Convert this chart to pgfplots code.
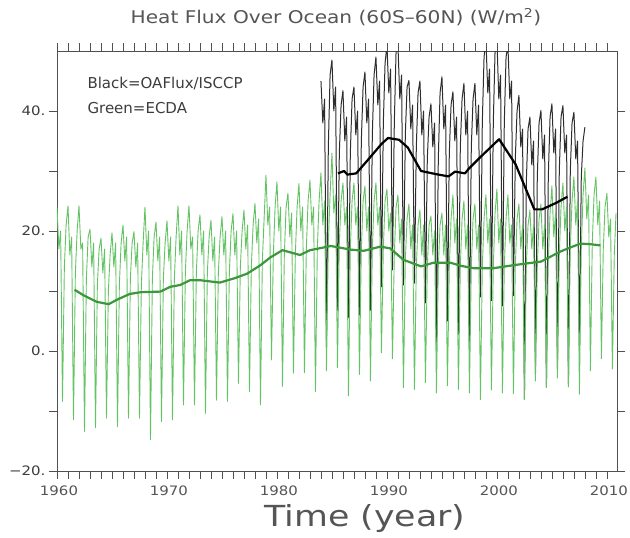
\documentclass[border=0pt]{standalone}
\usepackage{pgfplots}
\pgfplotsset{compat=1.18}
\usepackage{fontspec}
\setmainfont{DejaVu Sans}
\newfontfamily\widefont[FakeStretch=1.15]{DejaVu Sans}
\newfontfamily\widerfont[FakeStretch=1.2]{DejaVu Sans}
\definecolor{txt}{RGB}{60,60,60}
\definecolor{txtl}{RGB}{85,85,85}
\definecolor{frm}{RGB}{80,80,80}
\definecolor{gthin}{RGB}{100,195,100}
\definecolor{gthick}{RGB}{60,150,60}
\definecolor{kthin}{RGB}{45,45,45}
\begin{document}
\begin{tikzpicture}
\useasboundingbox (0pt,0pt) rectangle (630pt,538pt);
\begin{axis}[
  at={(57pt,67pt)}, anchor=south west,
  width=560pt, height=420pt, scale only axis,
  xmin=1960, xmax=2010.917, ymin=-20, ymax=50,
  xtick={1960,1970,1980,1990,2000,2010},
  xticklabels={1960,1970,1980,1990,2000,2010},
  minor xtick={1960,1961,...,2010},
  ytick={-20,-10,0,10,20,30,40},
  yticklabels={−20.,,0.,,20.,,40.},
  tick align=outside,
  major tick length=8pt, minor tick length=8pt,
  xtick pos=both, ytick pos=both,
  xticklabel pos=lower, yticklabel pos=left,
  tick style={frm, line width=0.8pt},
  axis line style={frm, line width=0.9pt},
  xticklabel style={font=\widefont\fontsize{13}{15}\selectfont, text=txtl, yshift=-3pt, xshift=2pt},
  yticklabel style={font=\widefont\fontsize{13}{15}\selectfont, text=txt},
  every axis plot/.append style={line join=round},
]
\addplot[kthin, line width=1pt] coordinates {
(1984,45)(1984.17,38)(1984.33,42)(1984.5,1.8)(1984.67,34)(1984.83,46)
(1985,48.5)(1985.17,40)(1985.33,44)(1985.5,6.8)(1985.67,33)(1985.83,41)
(1986,43.4)(1986.17,35)(1986.33,39)(1986.5,5.6)(1986.67,33)(1986.83,42)
(1987,44)(1987.17,36)(1987.33,40)(1987.5,6)(1987.67,35)(1987.83,44)
(1988,46.5)(1988.17,38)(1988.33,42)(1988.5,6.8)(1988.67,36)(1988.83,46)
(1989,49)(1989.17,41)(1989.33,45)(1989.5,10.7)(1989.67,38)(1989.83,48)
(1990,51)(1990.17,43)(1990.33,47)(1990.5,13.5)(1990.67,38)(1990.83,50)
(1991,51)(1991.17,42)(1991.33,46)(1991.5,11)(1991.67,36)(1991.83,44)
(1992,45.1)(1992.17,37)(1992.33,41)(1992.5,11.3)(1992.67,34)(1992.83,43)
(1993,45)(1993.17,36)(1993.33,40)(1993.5,8)(1993.67,32)(1993.83,39)
(1994,41.2)(1994.17,34)(1994.33,38)(1994.5,1.3)(1994.67,32)(1994.83,43)
(1995,45.7)(1995.17,37)(1995.33,41)(1995.5,5)(1995.67,33)(1995.83,41)
(1996,43.2)(1996.17,35)(1996.33,39)(1996.5,2.8)(1996.67,34)(1996.83,42)
(1997,44.6)(1997.17,36)(1997.33,40)(1997.5,1.5)(1997.67,34)(1997.83,42)
(1998,44.6)(1998.17,36)(1998.33,41)(1998.5,9)(1998.67,38)(1998.83,49)
(1999,52)(1999.17,43)(1999.33,47)(1999.5,8.4)(1999.67,38)(1999.83,50)
(2000,52)(2000.17,42)(2000.33,46)(2000.5,7.5)(2000.67,38)(2000.83,49)
(2001,51)(2001.17,42)(2001.33,45)(2001.5,9.2)(2001.67,32)(2001.83,40)
(2002,42.6)(2002.17,34)(2002.33,37)(2002.5,-8)(2002.67,28)(2002.83,37)
(2003,39)(2003.17,31)(2003.33,35)(2003.5,-3.8)(2003.67,29)(2003.83,38)
(2004,40.1)(2004.17,32)(2004.33,36)(2004.5,-6)(2004.67,29)(2004.83,39)
(2005,41.2)(2005.17,33)(2005.33,37)(2005.5,-3)(2005.67,30)(2005.83,39)
(2006,40.9)(2006.17,33)(2006.33,36)(2006.5,-5.5)(2006.67,30)(2006.83,38)
(2007,39.8)(2007.17,32)(2007.33,35)(2007.5,0)(2007.67,29)(2007.83,35)
(2008,37.3)
};
\addplot[gthin, line width=0.9pt] coordinates {
(1960,24)(1960.17,17)(1960.33,20)(1960.5,-8.4)(1960.67,14)(1960.83,21)
(1961,24.2)(1961.17,16)(1961.33,19)(1961.5,-11.5)(1961.67,13)(1961.83,20)
(1962,24.2)(1962.17,17)(1962.33,18)(1962.5,-13.4)(1962.67,12)(1962.83,19)
(1963,20.3)(1963.17,14)(1963.33,18)(1963.5,-12.8)(1963.67,11)(1963.83,17)
(1964,18.8)(1964.17,13)(1964.33,17)(1964.5,-11.2)(1964.67,10)(1964.83,16)
(1965,19.7)(1965.17,14)(1965.33,18)(1965.5,-12.6)(1965.67,11)(1965.83,18)
(1966,21)(1966.17,15)(1966.33,19)(1966.5,-11.2)(1966.67,12)(1966.83,18)
(1967,19.9)(1967.17,14)(1967.33,18)(1967.5,-11.2)(1967.67,11)(1967.83,18)
(1968,24)(1968.17,16)(1968.33,20)(1968.5,-14.8)(1968.67,12)(1968.83,19)
(1969,21.5)(1969.17,15)(1969.33,19)(1969.5,-11.8)(1969.67,12)(1969.83,18)
(1970,21.7)(1970.17,15)(1970.33,19)(1970.5,-11.5)(1970.67,12)(1970.83,19)
(1971,24.2)(1971.17,16)(1971.33,20)(1971.5,-9)(1971.67,13)(1971.83,20)
(1972,24.2)(1972.17,17)(1972.33,19)(1972.5,-9)(1972.67,13)(1972.83,20)
(1973,22.7)(1973.17,16)(1973.33,20)(1973.5,-10.4)(1973.67,13)(1973.83,19)
(1974,21.8)(1974.17,15)(1974.33,19)(1974.5,-8.2)(1974.67,13)(1974.83,19)
(1975,22.4)(1975.17,16)(1975.33,20)(1975.5,-8.4)(1975.67,13)(1975.83,20)
(1976,22.9)(1976.17,16)(1976.33,20)(1976.5,-5.4)(1976.67,14)(1976.83,20)
(1977,23.5)(1977.17,17)(1977.33,21)(1977.5,-6.8)(1977.67,14)(1977.83,21)
(1978,24.6)(1978.17,18)(1978.33,22)(1978.5,-9)(1978.67,15)(1978.83,22)
(1979,29.3)(1979.17,21)(1979.33,24)(1979.5,-1.5)(1979.67,16)(1979.83,24)
(1980,28.2)(1980.17,20)(1980.33,24)(1980.5,-5.9)(1980.67,16)(1980.83,24)
(1981,26.3)(1981.17,19)(1981.33,23)(1981.5,-3.7)(1981.67,16)(1981.83,24)
(1982,27.9)(1982.17,20)(1982.33,24)(1982.5,-3.6)(1982.67,17)(1982.83,25)
(1983,28.5)(1983.17,21)(1983.33,24)(1983.5,-6.8)(1983.67,17)(1983.83,25)
(1984,29.7)(1984.17,21)(1984.33,25)(1984.5,-3.3)(1984.67,18)(1984.83,26)
(1985,33)(1985.17,23)(1985.33,26)(1985.5,-2.8)(1985.67,18)(1985.83,25)
(1986,28)(1986.17,21)(1986.33,24)(1986.5,-7.5)(1986.67,17)(1986.83,25)
(1987,28)(1987.17,21)(1987.33,24)(1987.5,-3.9)(1987.67,17)(1987.83,25)
(1988,27.5)(1988.17,20)(1988.33,24)(1988.5,-5)(1988.67,17)(1988.83,25)
(1989,28)(1989.17,21)(1989.33,24)(1989.5,-0.3)(1989.67,17)(1989.83,25)
(1990,27)(1990.17,20)(1990.33,23)(1990.5,-1.3)(1990.67,16)(1990.83,24)
(1991,26)(1991.17,18)(1991.33,22)(1991.5,-6.1)(1991.67,15)(1991.83,22)
(1992,24.5)(1992.17,17)(1992.33,21)(1992.5,-6.4)(1992.67,14)(1992.83,21)
(1993,23.5)(1993.17,16)(1993.33,21)(1993.5,-5.3)(1993.67,14)(1993.83,21)
(1994,22.5)(1994.17,16)(1994.33,20)(1994.5,-7)(1994.67,14)(1994.83,21)
(1995,23)(1995.17,16)(1995.33,21)(1995.5,-5.8)(1995.67,14)(1995.83,22)
(1996,26)(1996.17,18)(1996.33,22)(1996.5,-6.4)(1996.67,14)(1996.83,22)
(1997,25)(1997.17,17)(1997.33,21)(1997.5,-7)(1997.67,14)(1997.83,22)
(1998,24.5)(1998.17,17)(1998.33,21)(1998.5,-8.1)(1998.67,14)(1998.83,22)
(1999,26)(1999.17,18)(1999.33,22)(1999.5,-6.5)(1999.67,14)(1999.83,23)
(2000,27)(2000.17,18)(2000.33,22)(2000.5,-7)(2000.67,14)(2000.83,22)
(2001,26)(2001.17,18)(2001.33,21)(2001.5,-7.1)(2001.67,14)(2001.83,22)
(2002,24.5)(2002.17,17)(2002.33,21)(2002.5,-8.1)(2002.67,14)(2002.83,21)
(2003,23.5)(2003.17,17)(2003.33,21)(2003.5,-5)(2003.67,14)(2003.83,22)
(2004,24.5)(2004.17,17)(2004.33,21)(2004.5,-6.1)(2004.67,15)(2004.83,23)
(2005,27.5)(2005.17,19)(2005.33,23)(2005.5,-4.5)(2005.67,16)(2005.83,24)
(2006,28)(2006.17,20)(2006.33,24)(2006.5,-6)(2006.67,17)(2006.83,25)
(2007,29)(2007.17,21)(2007.33,25)(2007.5,-7.2)(2007.67,17)(2007.83,26)
(2008,30.5)(2008.17,22)(2008.33,26)(2008.5,-3.3)(2008.67,18)(2008.83,26)
(2009,29)(2009.17,21)(2009.33,25)(2009.5,-1.3)(2009.67,17)(2009.83,24)
(2010,26.3)(2010.17,19)(2010.33,22)(2010.5,-3)(2010.67,16)(2010.83,23)
};
\addplot[gthick, line width=2.2pt] coordinates {
(1961.6,10.2)(1962.4,9.3)(1963.6,8.2)(1964.7,7.8)(1965.4,8.5)(1966.6,9.5)
(1967.6,9.8)(1969.4,9.9)(1970.3,10.7)(1971.2,11)(1972.1,11.8)(1973.0,11.8)
(1974.8,11.4)(1976.1,12.1)(1977.3,12.9)(1978.5,14.3)(1979.4,15.6)(1980.5,16.8)
(1982.1,16)(1983.0,16.8)(1984.9,17.5)(1986.7,16.9)(1987.9,16.7)(1989.4,17.4)
(1990.3,17.1)(1991.5,15.2)(1993.1,14.1)(1994.2,14.7)(1995.8,14.7)(1996.7,14.2)
(1997.9,13.8)(1999.7,13.8)(2001.5,14.3)(2004.0,14.9)(2005.8,16.6)(2006.6,17.2)
(2007.6,17.9)(2008.5,17.8)(2009.4,17.6)
};
\addplot[black, line width=2.2pt] coordinates {
(1985.55,29.6)(1986.1,30.0)(1986.4,29.4)(1987.2,29.6)(1988.2,31.7)(1989.5,34.5)
(1990.1,35.5)(1991.1,35.2)(1991.9,33.9)(1993.1,30.0)(1994.4,29.5)(1995.6,29.1)
(1996.2,29.9)(1997.1,29.6)(1997.4,30.3)(1998.6,32.5)(2000.2,35.3)(2001.7,31.1)
(2003.4,23.6)(2004.1,23.6)(2005.4,24.7)(2006.4,25.7)
};
\end{axis}
\node[text=txtl, font=\widefont\fontsize{17.5}{20}\selectfont] at (336pt,521pt) {Heat Flux Over Ocean (60S–60N) (W/m\textsuperscript{2})};
\node[text=txt, anchor=west, font=\fontsize{15}{18}\selectfont] at (84pt,454pt) {Black=OAFlux/ISCCP};
\node[text=txt, anchor=west, font=\fontsize{15}{18}\selectfont] at (84pt,430pt) {Green=ECDA};
\node[text=txtl, font=\widerfont\fontsize{29}{33}\selectfont] at (365pt,19pt) {Time (year)};
\end{tikzpicture}
\end{document}
